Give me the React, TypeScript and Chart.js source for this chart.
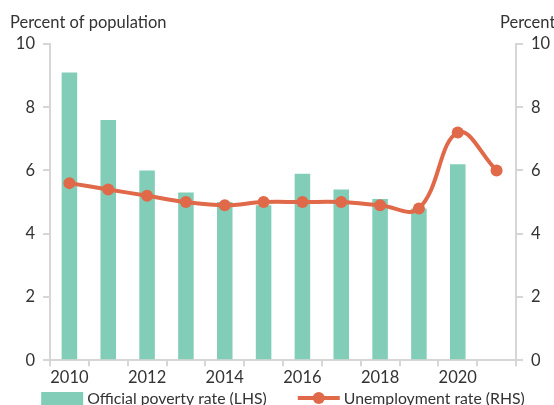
import React, { useEffect, useRef } from 'react';
import { Chart, registerables } from 'chart.js';

Chart.register(...registerables);

const years = ['2010', '2011', '2012', '2013', '2014', '2015', '2016', '2017', '2018', '2019', '2020', '2021'];
const povertyRate = [9.1, 7.6, 6.0, 5.3, 5.0, 4.9, 5.9, 5.4, 5.1, 4.8, 6.2, null];
const unemploymentRate = [5.6, 5.4, 5.2, 5.0, 4.9, 5.0, 5.0, 5.0, 4.9, 4.8, 7.2, 6.0];
const seriesNames = ['Official poverty rate (LHS)', 'Unemployment rate (RHS)'];
const leftTitle = 'Percent of population';
const rightTitle = 'Percent';

const BAR_COLOR = '#82cdb7';
const LINE_COLOR = '#e0694a';
const AXIS_COLOR = '#d6d6d6';
const TEXT_COLOR = '#333333';
const FONT = 'Lato, "DejaVu Sans", sans-serif';
const FS = 16.5;
const LEGEND_FS = 15.8;

const axisTitles = {
  id: 'axisTitles',
  afterDraw(chart: any) {
    const ctx = chart.ctx;
    ctx.save();
    ctx.font = `${FS}px ${FONT}`;
    ctx.fillStyle = TEXT_COLOR;
    ctx.textBaseline = 'alphabetic';
    ctx.textAlign = 'left';
    ctx.fillText(leftTitle, 10, 28);
    ctx.fillText(rightTitle, chart.scales.y1.left - 16, 28);
    ctx.restore();
  },
};

const bottomLegend = {
  id: 'bottomLegend',
  afterDraw(chart: any) {
    const ctx = chart.ctx;
    const area = chart.chartArea;
    ctx.save();
    ctx.font = `${LEGEND_FS}px ${FONT}`;
    ctx.fillStyle = TEXT_COLOR;
    ctx.textBaseline = 'middle';
    ctx.textAlign = 'left';
    const sw = 42;
    const gapText = 4;
    const gapItem = 31;
    const w1 = ctx.measureText(seriesNames[0]).width;
    const w2 = ctx.measureText(seriesNames[1]).width;
    const total = sw + gapText + w1 + gapItem + sw + gapText + w2;
    let x = (area.left + area.right) / 2 - total / 2;
    const cy = chart.height - 7;
    ctx.fillStyle = BAR_COLOR;
    ctx.fillRect(x, cy - 6, sw, 13);
    x += sw + gapText;
    ctx.fillStyle = TEXT_COLOR;
    ctx.fillText(seriesNames[0], x, cy + 1);
    x += w1 + gapItem;
    ctx.strokeStyle = LINE_COLOR;
    ctx.lineWidth = 4;
    ctx.beginPath();
    ctx.moveTo(x, cy);
    ctx.lineTo(x + sw, cy);
    ctx.stroke();
    ctx.fillStyle = LINE_COLOR;
    ctx.beginPath();
    ctx.arc(x + sw / 2, cy, 6, 0, Math.PI * 2);
    ctx.fill();
    x += sw + gapText;
    ctx.fillStyle = TEXT_COLOR;
    ctx.fillText(seriesNames[1], x, cy + 1);
    ctx.restore();
  },
};

export default function App() {
  const ref = useRef<HTMLCanvasElement>(null);

  useEffect(() => {
    document.body.style.margin = '0';
    const chart = new Chart(ref.current!, {
      type: 'bar',
      data: {
        labels: years,
        datasets: [
          {
            type: 'bar',
            label: seriesNames[0],
            data: povertyRate,
            backgroundColor: BAR_COLOR,
            borderWidth: 0,
            categoryPercentage: 1,
            barPercentage: 0.4,
            yAxisID: 'y',
            order: 2,
          },
          {
            type: 'line',
            label: seriesNames[1],
            data: unemploymentRate,
            borderColor: LINE_COLOR,
            backgroundColor: LINE_COLOR,
            borderWidth: 4,
            pointRadius: 6,
            pointHoverRadius: 6,
            pointBorderWidth: 0,
            tension: 0.4,
            yAxisID: 'y1',
            order: 1,
          },
        ],
      } as any,
      options: {
        animation: false,
        responsive: false,
        maintainAspectRatio: false,
        layout: { padding: { top: 44, left: 0, right: 0, bottom: 15 } },
        plugins: {
          tooltip: { enabled: false },
          title: { display: false },
          legend: { display: false },
        },
        scales: {
          x: {
            offset: true,
            grid: {
              display: true,
              offset: true,
              drawOnChartArea: false,
              drawTicks: true,
              tickLength: 6,
              color: AXIS_COLOR,
              lineWidth: 2,
            },
            border: { display: true, color: AXIS_COLOR, width: 2 },
            ticks: {
              autoSkip: false,
              maxRotation: 0,
              padding: 2,
              color: TEXT_COLOR,
              font: { family: FONT, size: FS },
              callback: (_v: any, i: number) => (i % 2 === 0 ? years[i] : ''),
            },
          },
          y: {
            position: 'left',
            min: 0,
            max: 10,
            ticks: { stepSize: 2, padding: 8, color: TEXT_COLOR, font: { family: FONT, size: FS } },
            grid: { display: true, drawOnChartArea: false, tickLength: 7, color: AXIS_COLOR, lineWidth: 2 },
            border: { display: true, color: AXIS_COLOR, width: 2 },
            afterFit: (s: any) => { s.width = 50; },
          },
          y1: {
            position: 'right',
            min: 0,
            max: 10,
            ticks: { stepSize: 2, padding: 8, color: TEXT_COLOR, font: { family: FONT, size: FS } },
            grid: { display: true, drawOnChartArea: false, tickLength: 7, color: AXIS_COLOR, lineWidth: 2 },
            border: { display: true, color: AXIS_COLOR, width: 2 },
            afterFit: (s: any) => { s.width = 38; },
          },
        },
      } as any,
      plugins: [axisTitles, bottomLegend],
    });
    return () => chart.destroy();
  }, []);

  return (
    <div style={{ width: 554, height: 405, position: 'relative', background: '#fff' }}>
      <canvas ref={ref} width={554} height={405} style={{ display: 'block' }} />
    </div>
  );
}
